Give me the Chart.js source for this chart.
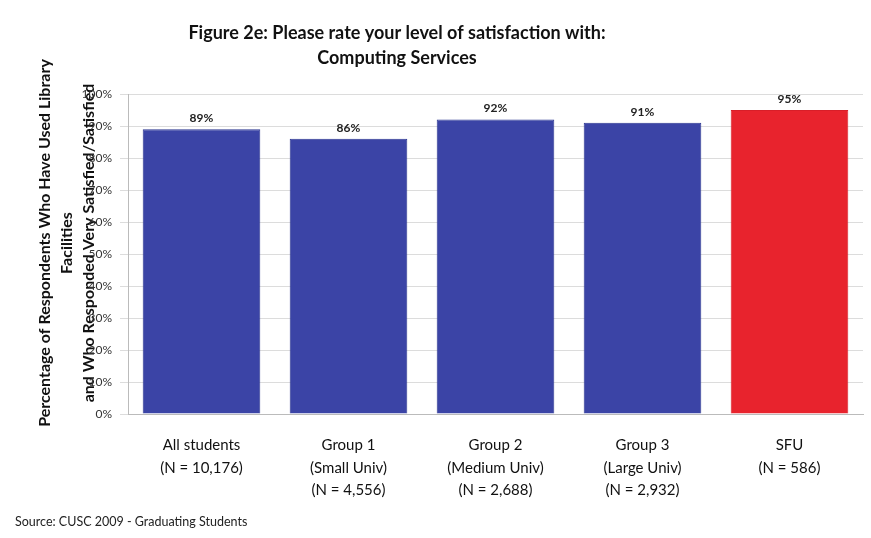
<!DOCTYPE html>
<html>
<head>
<meta charset="utf-8">
<script src="https://cdn.jsdelivr.net/npm/chart.js@4"></script>
<style>
  html, body { margin: 0; padding: 0; background: #fff; }
  #wrap { width: 871px; height: 538px; position: relative; }
</style>
</head>
<body>
<div id="wrap"><canvas id="myChart" width="871" height="538"></canvas></div>
<script>
// data
const categories = [
  ['All students', '(N = 10,176)'],
  ['Group 1', '(Small Univ)', '(N = 4,556)'],
  ['Group 2', '(Medium Univ)', '(N = 2,688)'],
  ['Group 3', '(Large Univ)', '(N = 2,932)'],
  ['SFU', '(N = 586)']
];
const satisfied = [89, 86, 92, 91, 95];
const barColors = ['#3b44a6', '#3b44a6', '#3b44a6', '#3b44a6', '#e8232d'];
const borderColors = ['#2b3590', '#2b3590', '#2b3590', '#2b3590', '#d81e28'];
const titleLines = ['Figure 2e: Please rate your level of satisfaction with:', 'Computing Services'];
const yTitleLines = ['Percentage of Respondents Who Have Used Library', 'Facilities', 'and Who Responded Very Satisfied/Satisfied'];
const sourceText = 'Source: CUSC 2009 - Graduating Students';

const FONT = 'Lato, "Open Sans", sans-serif';

// value labels over the bars
const barLabels = {
  id: 'barLabels',
  afterDatasetsDraw(chart) {
    const ctx = chart.ctx;
    const meta = chart.getDatasetMeta(0);
    ctx.save();
    ctx.font = 'bold 12px ' + FONT;
    ctx.fillStyle = '#222';
    ctx.textAlign = 'center';
    ctx.textBaseline = 'bottom';
    meta.data.forEach((bar, i) => {
      ctx.fillText(satisfied[i] + '%', bar.x, bar.y - 5);
    });
    ctx.restore();
  }
};

// rotated y title, drawn first so the tick labels sit on top of it
const yTitle = {
  id: 'yTitle',
  beforeDraw(chart) {
    const ctx = chart.ctx;
    ctx.save();
    ctx.fillStyle = '#111';
    ctx.textAlign = 'center';
    ctx.textBaseline = 'middle';
    ctx.font = 'bold 16px ' + FONT;
    ctx.translate(0, 243);
    ctx.rotate(-Math.PI / 2);
    ctx.fillText(yTitleLines[0], 0, 45);
    ctx.fillText(yTitleLines[1], 0, 67);
    ctx.fillText(yTitleLines[2], 0, 89);
    ctx.restore();
  }
};

// title and source note
const extraText = {
  id: 'extraText',
  afterDraw(chart) {
    const ctx = chart.ctx;
    ctx.save();
    ctx.fillStyle = '#111';
    ctx.textAlign = 'center';
    ctx.textBaseline = 'middle';
    ctx.font = 'bold 18px ' + FONT;
    ctx.fillText(titleLines[0], 397, 33);
    ctx.fillText(titleLines[1], 397, 58);

    ctx.font = '12.5px ' + FONT;
    ctx.fillStyle = '#222';
    ctx.textAlign = 'left';
    ctx.fillText(sourceText, 15, 522);
    ctx.restore();
  }
};

const ctx = document.getElementById('myChart').getContext('2d');
const chart = new Chart(ctx, {
  type: 'bar',
  data: {
    labels: categories,
    datasets: [{
      data: satisfied,
      backgroundColor: barColors,
      borderColor: borderColors,
      borderWidth: 1,
      categoryPercentage: 0.8,
      barPercentage: 1.0
    }]
  },
  options: {
    responsive: false,
    animation: false,
    layout: { padding: { top: 94, right: 8, bottom: 40, left: 0 } },
    plugins: {
      legend: { display: false },
      tooltip: { enabled: false }
    },
    scales: {
      y: {
        min: 0,
        max: 100,
        ticks: {
          stepSize: 10,
          padding: 8,
          color: '#333',
          font: { family: FONT, size: 12 },
          callback: v => v + '%'
        },
        grid: { color: '#dcdcdc', tickLength: 8 },
        border: { color: '#bbb' },
        afterFit: s => { s.width = 128; }
      },
      x: {
        ticks: {
          color: '#111',
          padding: 12,
          maxRotation: 0,
          font: { family: FONT, size: 15, lineHeight: 1.5 }
        },
        grid: { display: false },
        border: { color: '#bbb' },
        afterFit: s => { s.height = 84; }
      }
    }
  },
  plugins: [yTitle, barLabels, extraText]
});
</script>
</body>
</html>
